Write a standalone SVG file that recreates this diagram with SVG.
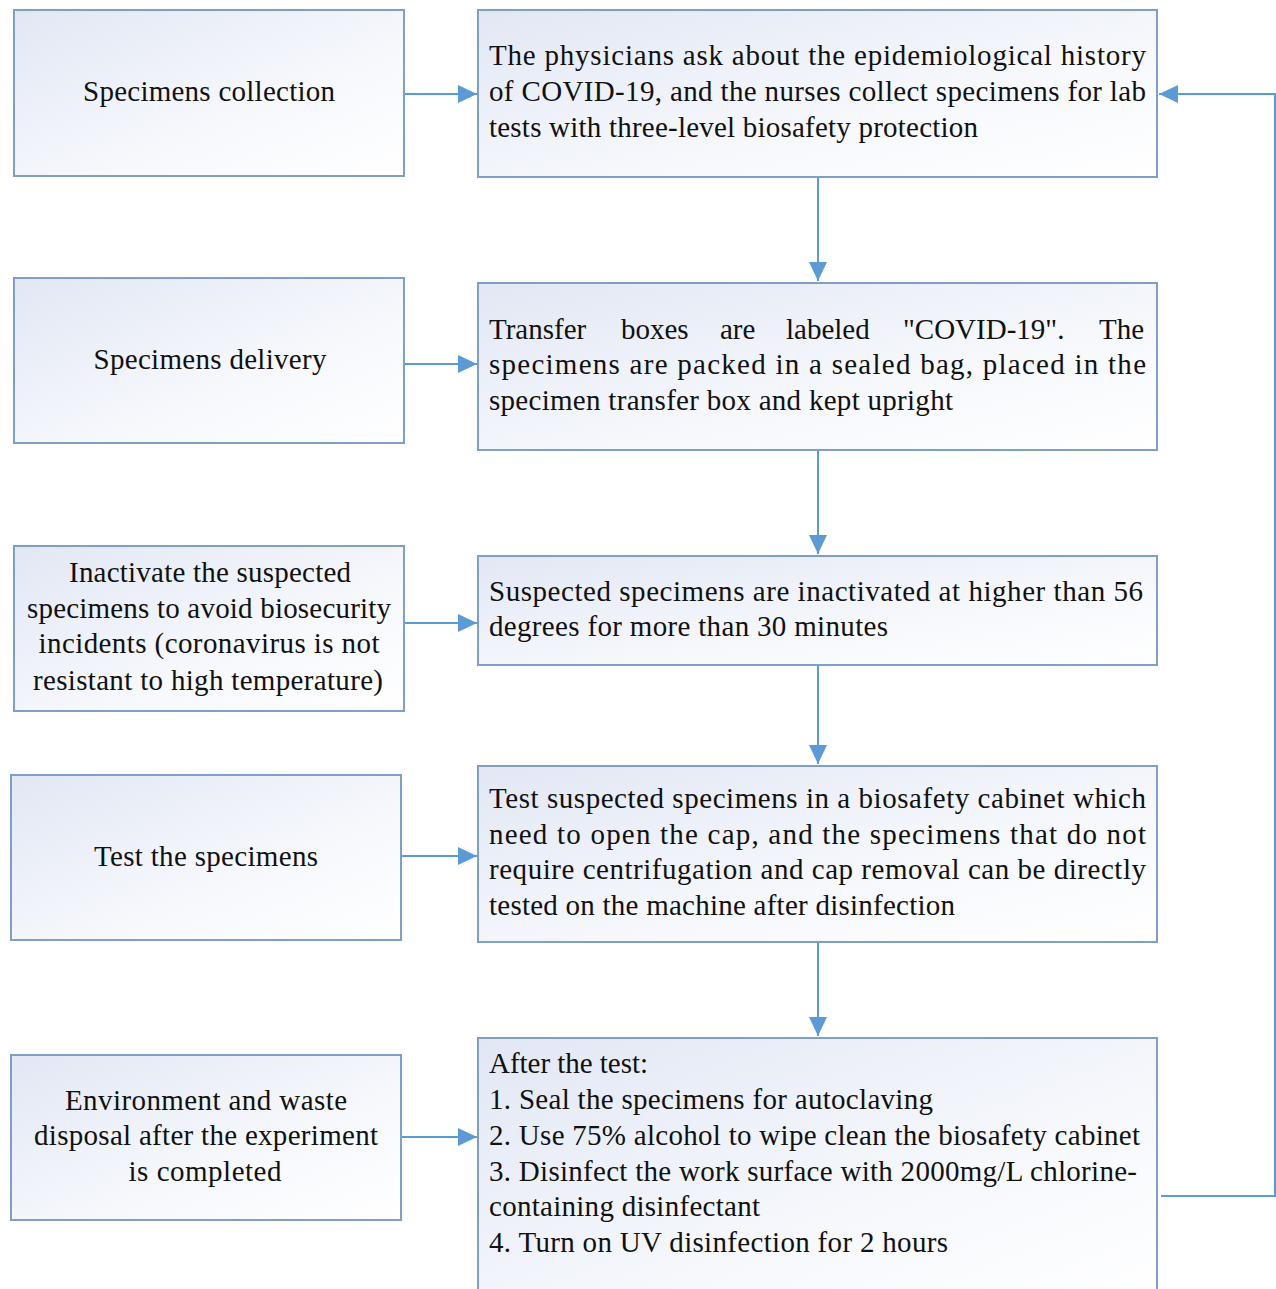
<svg xmlns="http://www.w3.org/2000/svg" width="1276" height="1289" viewBox="0 0 1276 1289">
<defs>
<linearGradient id="g" x1="0" y1="0" x2="1" y2="1">
<stop offset="0" stop-color="#e2e7f4"/>
<stop offset="0.6" stop-color="#f6f8fc"/>
<stop offset="1" stop-color="#ffffff"/>
</linearGradient>
<marker id="ah" markerUnits="userSpaceOnUse" markerWidth="20" markerHeight="18" refX="19" refY="9" orient="auto">
<path d="M0,0 L19,9 L0,18 Z" fill="#5b9bd5"/>
</marker>
<style>
.box{fill:url(#g);stroke:#7f9fc7;stroke-width:2}
.t{font-family:"Liberation Serif","Times New Roman",serif;font-size:29px;fill:#111}
.c{text-anchor:middle}
.ln{fill:none;stroke:#5b9bd5;stroke-width:2}
</style>
</defs>
<rect width="1276" height="1289" fill="#ffffff"/>

<g id="connectors">
<line class="ln" x1="405" y1="94" x2="477" y2="94" marker-end="url(#ah)"/>
<line class="ln" x1="405" y1="364" x2="477" y2="364" marker-end="url(#ah)"/>
<line class="ln" x1="405" y1="623" x2="477" y2="623" marker-end="url(#ah)"/>
<line class="ln" x1="402" y1="856" x2="477" y2="856" marker-end="url(#ah)"/>
<line class="ln" x1="402" y1="1137" x2="477" y2="1137" marker-end="url(#ah)"/>
<line class="ln" x1="818" y1="178" x2="818" y2="281" marker-end="url(#ah)"/>
<line class="ln" x1="818" y1="451" x2="818" y2="554" marker-end="url(#ah)"/>
<line class="ln" x1="818" y1="666" x2="818" y2="764" marker-end="url(#ah)"/>
<line class="ln" x1="818" y1="943" x2="818" y2="1036" marker-end="url(#ah)"/>
<path class="ln" d="M1161,1196 L1275,1196 L1275,94 L1159,94" marker-end="url(#ah)"/>
</g>

<g id="left1">
<rect class="box" x="14" y="10" width="390" height="166"/>
<text class="t c" x="209" y="101" textLength="252" lengthAdjust="spacing">Specimens collection</text>
</g>
<g id="left2">
<rect class="box" x="14" y="278" width="390" height="165"/>
<text class="t c" x="210" y="369" textLength="233" lengthAdjust="spacing">Specimens delivery</text>
</g>
<g id="left3">
<rect class="box" x="14" y="546" width="390" height="165"/>
<text class="t c" x="210" y="582" textLength="282" lengthAdjust="spacing">Inactivate the suspected</text>
<text class="t c" x="209" y="618" textLength="364" lengthAdjust="spacing">specimens to avoid biosecurity</text>
<text class="t c" x="209" y="653" textLength="341" lengthAdjust="spacing">incidents (coronavirus is not</text>
<text class="t c" x="208" y="690" textLength="350" lengthAdjust="spacing">resistant to high temperature)</text>
</g>
<g id="left4">
<rect class="box" x="11" y="775" width="390" height="165"/>
<text class="t c" x="206" y="866" textLength="224" lengthAdjust="spacing">Test the specimens</text>
</g>
<g id="left5">
<rect class="box" x="11" y="1055" width="390" height="165"/>
<text class="t c" x="206" y="1110" textLength="282" lengthAdjust="spacing">Environment and waste</text>
<text class="t c" x="206" y="1145" textLength="344" lengthAdjust="spacing">disposal after the experiment</text>
<text class="t c" x="205" y="1181" textLength="153" lengthAdjust="spacing">is completed</text>
</g>

<g id="right1">
<rect class="box" x="478" y="10" width="679" height="167"/>
<text class="t" x="489" y="65" textLength="657" lengthAdjust="spacing">The physicians ask about the epidemiological history</text>
<text class="t" x="489" y="101" textLength="657" lengthAdjust="spacing">of COVID-19, and the nurses collect specimens for lab</text>
<text class="t" x="489" y="137" textLength="489" lengthAdjust="spacing">tests with three-level biosafety protection</text>
</g>
<g id="right2">
<rect class="box" x="478" y="283" width="679" height="167"/>
<text class="t" y="339"><tspan x="489">Transfer</tspan> <tspan x="621">boxes</tspan> <tspan x="720">are</tspan> <tspan x="786">labeled</tspan> <tspan x="903">"COVID-19".</tspan> <tspan x="1099">The</tspan></text>
<text class="t" x="489" y="374" textLength="657" lengthAdjust="spacing">specimens are packed in a sealed bag, placed in the</text>
<text class="t" x="489" y="410" textLength="464" lengthAdjust="spacing">specimen transfer box and kept upright</text>
</g>
<g id="right3">
<rect class="box" x="478" y="556" width="679" height="109"/>
<text class="t" x="489" y="601" textLength="654" lengthAdjust="spacing">Suspected specimens are inactivated at higher than 56</text>
<text class="t" x="489" y="636" textLength="399" lengthAdjust="spacing">degrees for more than 30 minutes</text>
</g>
<g id="right4">
<rect class="box" x="478" y="766" width="679" height="176"/>
<text class="t" x="489" y="808" textLength="657" lengthAdjust="spacing">Test suspected specimens in a biosafety cabinet which</text>
<text class="t" x="489" y="844" textLength="657" lengthAdjust="spacing">need to open the cap, and the specimens that do not</text>
<text class="t" x="489" y="879" textLength="657" lengthAdjust="spacing">require centrifugation and cap removal can be directly</text>
<text class="t" x="489" y="915" textLength="466" lengthAdjust="spacing">tested on the machine after disinfection</text>
</g>
<g id="right5">
<rect class="box" x="478" y="1038" width="679" height="270"/>
<text class="t" x="489" y="1073" textLength="159" lengthAdjust="spacing">After the test:</text>
<text class="t" x="489" y="1109" textLength="444" lengthAdjust="spacing">1. Seal the specimens for autoclaving</text>
<text class="t" x="489" y="1145" textLength="651" lengthAdjust="spacing">2. Use 75% alcohol to wipe clean the biosafety cabinet</text>
<text class="t" x="489" y="1181" textLength="648" lengthAdjust="spacing">3. Disinfect the work surface with 2000mg/L chlorine-</text>
<text class="t" x="489" y="1216" textLength="271" lengthAdjust="spacing">containing disinfectant</text>
<text class="t" x="489" y="1252" textLength="459" lengthAdjust="spacing">4. Turn on UV disinfection for 2 hours</text>
</g>
</svg>
